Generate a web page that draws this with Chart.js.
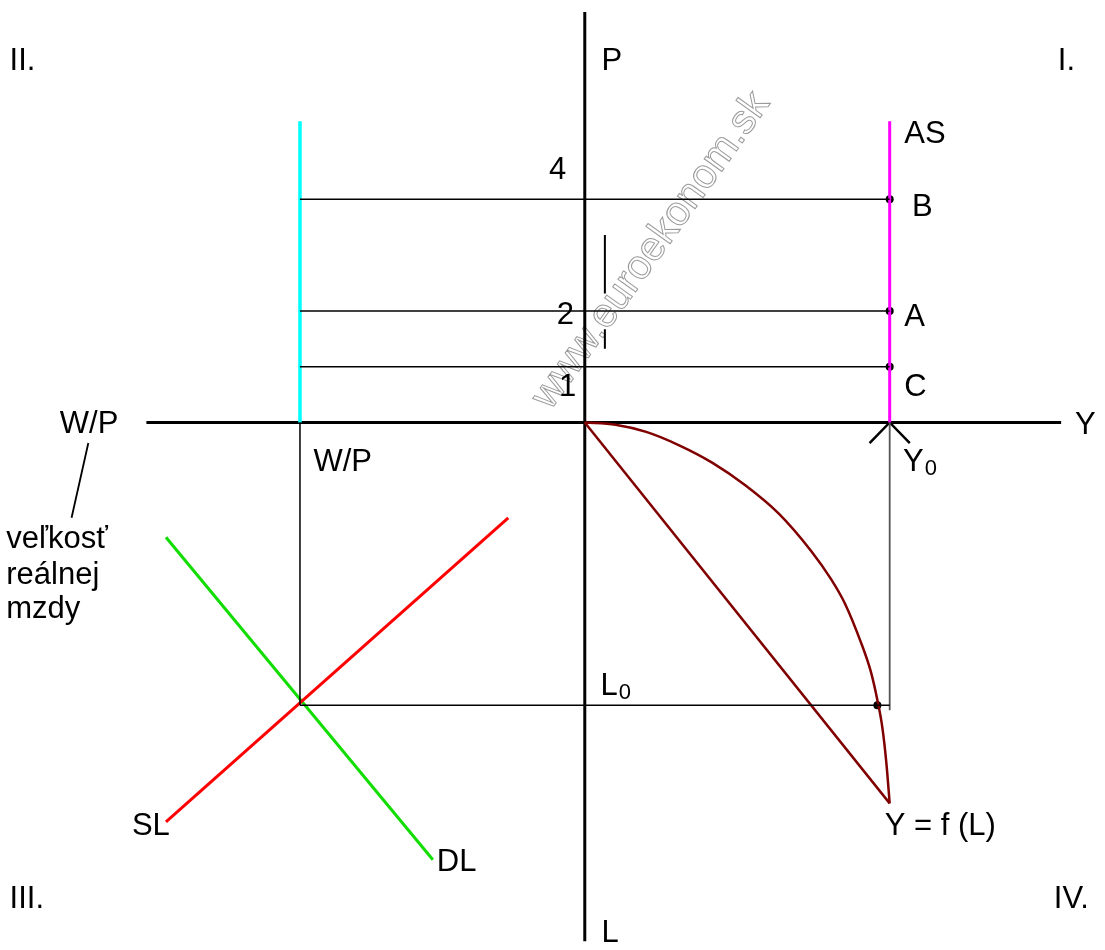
<!DOCTYPE html>
<html>
<head>
<meta charset="utf-8">
<script src="https://cdn.jsdelivr.net/npm/chart.js@4/dist/chart.umd.min.js"></script>
<style>
  html, body { margin: 0; padding: 0; background: #ffffff; }
  #wrap { width: 1105px; height: 950px; position: relative; }
</style>
</head>
<body>
<div id="wrap"><canvas id="c"></canvas></div>
<script>
// ---- data (units: 1 unit = one price level step) ----
const pLevels = [1, 2, 4];
const pLabels = ['1', '2', '4'];
const pointNames = ['C', 'A', 'B'];
const Y0 = 5.46;          // potential output
const wpReal = -5.10;     // real wage level on the W/P axis
const L0 = -5.07;         // employment level
const verticalTop = 5.40; // top of AS and W/P verticals
const axisHX = [-7.85, 8.53];
const axisVY = [7.36, -9.30];
const slX = [-7.50, -1.37];
const slY = [-7.16, -1.71];
const dlX = [-7.50, -2.72];
const dlY = [-2.06, -7.84];
const prodX = [0, 0.55, 1.10, 1.69, 2.28, 2.88, 3.47, 4.05, 4.41, 4.66, 4.94, 5.12, 5.24, 5.33, 5.40, 5.46];
const prodY = [0, -0.04, -0.17, -0.41, -0.72, -1.13, -1.63, -2.30, -2.81, -3.25, -3.93, -4.46, -4.98, -5.48, -6.10, -6.83];
const chordX = [0, 5.46];
const chordY = [0, -6.83];
const curveDot = [5.24, -5.07];
const arrowDX = [-0.36, 0, 0.36];
const arrowDY = [-0.37, 0, -0.37];
const leaderX = [-8.89, -9.19];
const leaderY = [-0.37, -1.71];
const tickMarkX = 0.36;
const tickMarkSegs = [[3.36, 2.31], [1.67, 1.32]];

// ---- label placement ----
const labels = [
  { t: 'II.', x: -10.30, y: 6.47 },
  { t: 'I.', x: 8.47, y: 6.47 },
  { t: 'P', x: 0.30, y: 6.47 },
  { t: 'AS', x: 5.72, y: 5.17 },
  { t: pLabels[2], x: -0.64, y: 4.52 },
  { t: pointNames[2], x: 5.86, y: 3.86 },
  { t: pLabels[1], x: -0.50, y: 1.92 },
  { t: pointNames[1], x: 5.72, y: 1.88 },
  { t: pLabels[0], x: -0.46, y: 0.62 },
  { t: pointNames[0], x: 5.72, y: 0.62 },
  { t: 'W/P', x: -9.40, y: -0.04 },
  { t: 'Y', x: 8.78, y: -0.05 },
  { t: 'W/P', x: -4.86, y: -0.71 },
  { t: 'Y', sub: '0', x: 5.70, y: -0.71 },
  { t: 'veľkosť', x: -10.36, y: -2.10 },
  { t: 'reálnej', x: -10.36, y: -2.74 },
  { t: 'mzdy', x: -10.36, y: -3.36 },
  { t: 'L', sub: '0', x: 0.28, y: -4.73 },
  { t: 'SL', x: -8.11, y: -7.25 },
  { t: 'Y = f (L)', x: 5.37, y: -7.25 },
  { t: 'DL', x: -2.65, y: -7.89 },
  { t: 'III.', x: -10.30, y: -8.55 },
  { t: 'IV.', x: 8.40, y: -8.55 },
  { t: 'L', x: 0.30, y: -9.16 }
];
const watermark = { t: 'www.euroekonom.sk', x: 1.19, y: 3.08, angle: -54.4 };

const pts = (xs, ys) => xs.map((x, i) => ({ x: x, y: ys[i] }));
const seg = (data, color, width, extra) => Object.assign({
  data: data, showLine: true, borderColor: color, borderWidth: width,
  pointRadius: 0, fill: false, tension: 0, clip: false
}, extra || {});

const datasets = [];
// P-level guide lines
pLevels.forEach(p => datasets.push(seg([{ x: wpReal, y: p }, { x: Y0, y: p }], '#000000', 1.5)));
// W/P vertical down to L0 and L0 horizontal
datasets.push(seg([{ x: wpReal, y: 0 }, { x: wpReal, y: L0 }], '#000000', 1.5));
datasets.push(seg([{ x: wpReal, y: L0 }, { x: Y0, y: L0 }], '#000000', 1.5));
datasets.push(seg([{ x: Y0, y: 0 }, { x: Y0, y: L0 - 0.09 }], '#555555', 1.8));
// SL and DL
datasets.push(seg(pts(slX, slY), '#ff0000', 3));
datasets.push(seg(pts(dlX, dlY), '#11dd00', 3));
// production function and chord
datasets.push(seg(pts(prodX, prodY), '#800000', 2.5, { cubicInterpolationMode: 'monotone' }));
datasets.push(seg(pts(chordX, chordY), '#800000', 2.5));
// cyan W/P vertical and magenta AS
datasets.push(seg([{ x: wpReal, y: verticalTop }, { x: wpReal, y: 0 }], '#00ffff', 3.5));
datasets.push(seg([{ x: Y0, y: verticalTop }, { x: Y0, y: 0 }], '#ff00ff', 3));
// main axes
datasets.push(seg([{ x: axisHX[0], y: 0 }, { x: axisHX[1], y: 0 }], '#000000', 3));
datasets.push(seg([{ x: 0, y: axisVY[0] }, { x: 0, y: axisVY[1] }], '#000000', 3));
// arrow at Y0
datasets.push(seg(pts(arrowDX.map(d => Y0 + d), arrowDY), '#000000', 2.5));
// leader line
datasets.push(seg(pts(leaderX, leaderY), '#000000', 1.8));
// small marks
tickMarkSegs.forEach(s => datasets.push(seg([{ x: tickMarkX, y: s[0] }, { x: tickMarkX, y: s[1] }], '#000000', 2)));
// points
datasets.push({
  data: pLevels.map(p => ({ x: Y0, y: p })).concat([{ x: curveDot[0], y: curveDot[1] }]),
  showLine: false, pointRadius: 4, pointBackgroundColor: '#000000', pointBorderWidth: 0, clip: false
});

const textPlugin = {
  id: 'texts',
  beforeDatasetsDraw(chart) {
    const { ctx, scales } = chart;
    ctx.save();
    ctx.translate(scales.x.getPixelForValue(watermark.x), scales.y.getPixelForValue(watermark.y));
    ctx.rotate(watermark.angle * Math.PI / 180);
    ctx.font = '41px "Liberation Sans", Arial, sans-serif';
    ctx.textAlign = 'center';
    ctx.textBaseline = 'middle';
    ctx.strokeStyle = '#9a9a9a';
    ctx.lineWidth = 1;
    ctx.strokeText(watermark.t, 0, 0);
    ctx.restore();
  },
  afterDatasetsDraw(chart) {
    const { ctx, scales } = chart;
    ctx.save();
    ctx.fillStyle = '#000000';
    ctx.textBaseline = 'middle';
    ctx.textAlign = 'left';
    labels.forEach(l => {
      const px = scales.x.getPixelForValue(l.x);
      const py = scales.y.getPixelForValue(l.y);
      ctx.font = '31px "Liberation Sans", Arial, sans-serif';
      ctx.fillText(l.t, px, py);
      if (l.sub) {
        const w = ctx.measureText(l.t).width;
        ctx.font = '22px "Liberation Sans", Arial, sans-serif';
        ctx.fillText(l.sub, px + w + 1, py + 7);
      }
    });
    ctx.restore();
  }
};

new Chart(document.getElementById('c'), {
  type: 'scatter',
  data: { datasets: datasets },
  options: {
    responsive: true,
    maintainAspectRatio: false,
    animation: false,
    events: [],
    layout: { padding: 0 },
    plugins: { legend: { display: false }, tooltip: { enabled: false } },
    scales: {
      x: { type: 'linear', min: -10.4, max: 9.244, display: false },
      y: { type: 'linear', min: -9.387, max: 7.502, display: false }
    }
  },
  plugins: [textPlugin]
});
</script>
</body>
</html>
